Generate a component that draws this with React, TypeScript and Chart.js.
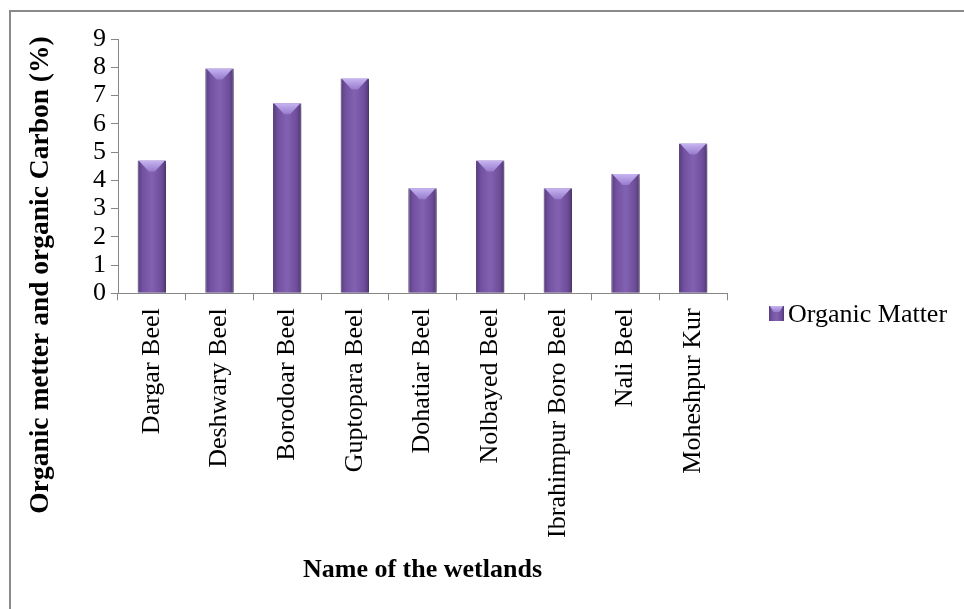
import React, { useEffect, useRef } from "react";
import { Chart, registerables } from "chart.js";

Chart.register(...registerables);

// Wetland names along the category axis
const wetlands = [
  "Dargar Beel",
  "Deshwary Beel",
  "Borodoar Beel",
  "Guptopara Beel",
  "Dohatiar Beel",
  "Nolbayed Beel",
  "Ibrahimpur Boro Beel",
  "Nali Beel",
  "Moheshpur Kur",
];

// Organic matter content (%) per wetland
const organicMatter = [4.7, 7.96, 6.73, 7.6, 3.72, 4.7, 3.72, 4.22, 5.3];

// Value axis range and step
const yMin = 0;
const yMax = 9;
const yStep = 1;

const seriesName = "Organic Matter";
const xTitle = "Name of the wetlands";
const yTitle = "Organic metter and organic Carbon (%)";

const SERIF = "'Times New Roman', 'Liberation Serif', serif";
const AXIS_GREY = "#868686";
const BAR_FRACTION = 0.42;
const BAR_FLAT = "#7252a0";

function barGradient(ctx: CanvasRenderingContext2D, left: number, right: number) {
  const g = ctx.createLinearGradient(left, 0, right, 0);
  g.addColorStop(0, "#573b7e");
  g.addColorStop(0.18, "#7252a0");
  g.addColorStop(0.5, "#8261b1");
  g.addColorStop(0.82, "#6f4f9c");
  g.addColorStop(1, "#523777");
  return g;
}

function drawBevel(ctx: CanvasRenderingContext2D, left: number, right: number, top: number, depth: number) {
  const cx = (left + right) / 2;
  const g = ctx.createLinearGradient(0, top, 0, top + depth);
  g.addColorStop(0, "#c7b5f2");
  g.addColorStop(1, "#977bcc");
  ctx.beginPath();
  ctx.moveTo(left + 1, top);
  ctx.lineTo(right - 1, top);
  ctx.lineTo(cx + 3, top + depth);
  ctx.lineTo(cx - 3, top + depth);
  ctx.closePath();
  ctx.fillStyle = g;
  ctx.fill();
}

const decorPlugin = {
  id: "decor",
  beforeDraw(chart: any) {
    const ctx: CanvasRenderingContext2D = chart.ctx;
    ctx.save();
    ctx.fillStyle = "#ffffff";
    ctx.fillRect(0, 0, chart.width, chart.height);
    // outer frame (left and top edges)
    ctx.fillStyle = "#8a8a8a";
    ctx.fillRect(9, 10, 2, chart.height - 10);
    ctx.fillRect(9, 10, chart.width - 9, 2);
    ctx.restore();
  },
  beforeDatasetsDraw(chart: any) {
    const ctx: CanvasRenderingContext2D = chart.ctx;
    ctx.save();
    ctx.shadowColor = "rgba(0,0,0,0.35)";
    ctx.shadowBlur = 7;
    ctx.shadowOffsetX = 3;
    ctx.shadowOffsetY = 2;
  },
  afterDatasetsDraw(chart: any) {
    const ctx: CanvasRenderingContext2D = chart.ctx;
    ctx.restore();

    // bevelled caps on each bar
    const meta = chart.getDatasetMeta(0);
    meta.data.forEach((el: any) => {
      const { x, y, width } = el.getProps(["x", "y", "width"], true);
      if (isFinite(x) && isFinite(y) && isFinite(width)) {
        drawBevel(ctx, x - width / 2, x + width / 2, y, 11);
      }
    });

    // legend
    ctx.save();
    const lx = 769;
    const ly = 306;
    const ls = 15;
    ctx.fillStyle = barGradient(ctx, lx, lx + ls);
    ctx.fillRect(lx, ly, ls, ls);
    drawBevel(ctx, lx, lx + ls, ly, 6);
    ctx.fillStyle = "#000";
    ctx.font = `26px ${SERIF}`;
    ctx.textAlign = "left";
    ctx.textBaseline = "middle";
    ctx.fillText(seriesName, 788, 315);
    ctx.restore();

    // value axis title
    ctx.save();
    ctx.translate(41, 275);
    ctx.rotate(-Math.PI / 2);
    ctx.fillStyle = "#000";
    ctx.font = `bold 27.5px ${SERIF}`;
    ctx.textAlign = "center";
    ctx.textBaseline = "middle";
    ctx.fillText(yTitle, 0, 0);
    ctx.restore();
  },
};

export default function App() {
  const canvasRef = useRef<HTMLCanvasElement | null>(null);

  useEffect(() => {
    const canvas = canvasRef.current;
    if (!canvas) return;

    const chart = new Chart(canvas, {
      type: "bar",
      data: {
        labels: wetlands,
        datasets: [
          {
            label: seriesName,
            data: organicMatter,
            backgroundColor: (c: any) => {
              const ch = c.chart;
              const xs = ch.scales && ch.scales.x;
              if (!xs || c.dataIndex === undefined) return BAR_FLAT;
              const cx = xs.getPixelForValue(c.dataIndex);
              const w = (xs.width / wetlands.length) * BAR_FRACTION;
              if (!isFinite(cx) || !isFinite(w) || w <= 0) return BAR_FLAT;
              return barGradient(ch.ctx, cx - w / 2, cx + w / 2);
            },
            borderColor: "rgba(70,48,104,0.9)",
            borderWidth: { left: 1, right: 1, top: 0, bottom: 0 },
            borderSkipped: "bottom",
            categoryPercentage: 1,
            barPercentage: BAR_FRACTION,
          },
        ],
      },
      options: {
        responsive: false,
        animation: false,
        events: [],
        layout: { padding: { left: 0, top: 39, right: 237, bottom: 0 } },
        plugins: {
          legend: { display: false },
          tooltip: { enabled: false },
        },
        scales: {
          x: {
            grid: {
              display: true,
              drawOnChartArea: false,
              drawTicks: true,
              tickLength: 7,
              tickColor: AXIS_GREY,
              offset: true,
            },
            border: { display: true, color: AXIS_GREY, width: 1 },
            ticks: {
              autoSkip: false,
              minRotation: 90,
              maxRotation: 90,
              padding: 8,
              color: "#000",
              font: { family: SERIF, size: 26 },
            },
            title: {
              display: true,
              text: xTitle,
              color: "#000",
              font: { family: SERIF, size: 26, weight: "bold" },
              padding: { top: 0, bottom: 23 },
            },
            afterFit(scale: any) {
              scale.height = 609 - 293.3;
            },
          },
          y: {
            min: yMin,
            max: yMax,
            grid: {
              display: true,
              drawOnChartArea: false,
              drawTicks: true,
              tickLength: 7,
              tickColor: AXIS_GREY,
            },
            border: { display: true, color: AXIS_GREY, width: 1 },
            ticks: {
              stepSize: yStep,
              autoSkip: false,
              padding: 5,
              color: "#000",
              font: { family: SERIF, size: 26 },
            },
            afterFit(scale: any) {
              scale.width = 118;
            },
          },
        },
      },
      plugins: [decorPlugin],
    });

    return () => chart.destroy();
  }, []);

  return (
    <div style={{ position: "absolute", left: 0, top: 0, width: 964, height: 609 }}>
      <canvas ref={canvasRef} width={964} height={609} style={{ width: 964, height: 609, display: "block" }} />
    </div>
  );
}
